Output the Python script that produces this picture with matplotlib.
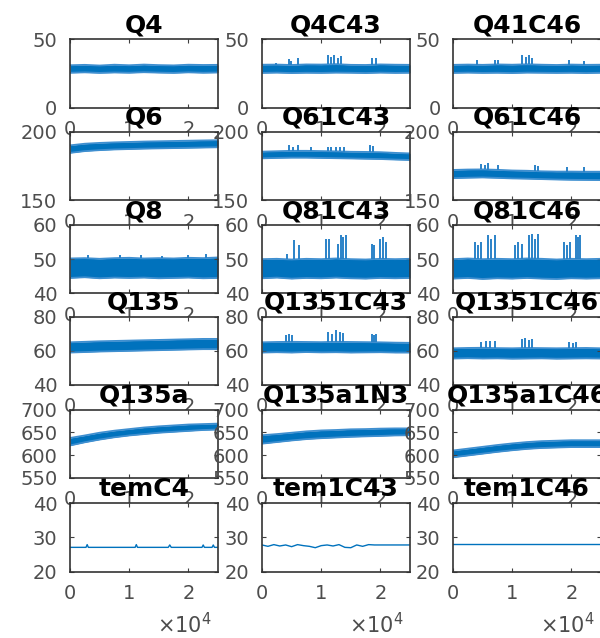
import matplotlib
matplotlib.use('Agg')
import matplotlib.pyplot as plt
import numpy as np

# sample positions (shared x axis, 0 .. 2.5e4)
band_x = [0, 2500, 5000, 7500, 10000, 12500, 15000, 17500, 20000, 22500, 25000]

# row 1 (0..50)
q4_lo = [25.5, 25.8, 25.4, 25.7, 25.5, 25.9, 25.6, 25.4, 25.8, 25.5, 25.7]
q4_hi = [31.0, 31.3, 30.8, 31.4, 31.0, 31.5, 31.1, 30.9, 31.4, 31.2, 31.3]
q4c43_lo = [25.4, 25.6, 25.3, 25.5, 25.4, 25.6, 25.5, 25.3, 25.6, 25.4, 25.5]
q4c43_hi = [31.4, 31.5, 31.2, 31.6, 31.5, 31.8, 31.3, 31.2, 31.6, 31.4, 31.3]
q4c43_spk_x = [2300, 4500, 4900, 6000, 11100, 11600, 12200, 12800, 13400, 18500, 19300]
q4c43_spk_top = [33, 35.5, 34, 36, 38.5, 37, 38.6, 36.5, 38, 36, 36.2]
q41c46_lo = [25.4, 25.6, 25.4, 25.5, 25.3, 25.6, 25.5, 25.4, 25.5, 25.3, 25.5]
q41c46_hi = [31.3, 31.5, 31.3, 31.6, 31.4, 31.7, 31.4, 31.2, 31.5, 31.3, 31.4]
q41c46_spk_x = [4000, 7100, 7600, 11600, 12300, 12800, 13300, 19600, 22100]
q41c46_spk_top = [35, 34.5, 34.5, 38.5, 37, 38.6, 36, 34.5, 34]

# row 2 (150..200)
q6_lo = [184.5, 185.8, 186.5, 187.0, 187.3, 187.6, 187.8, 188.0, 188.2, 188.4, 188.6]
q6_hi = [190.0, 191.2, 191.8, 192.2, 192.5, 192.8, 193.0, 193.2, 193.4, 193.6, 193.8]
q61c43_lo = [180.5, 180.8, 181.0, 181.0, 180.8, 180.6, 180.4, 180.2, 180.0, 179.6, 179.3]
q61c43_hi = [185.4, 185.7, 186.0, 186.0, 185.8, 185.6, 185.3, 185.2, 185.0, 184.5, 184.1]
q61c43_spk_x = [4500, 5200, 6000, 8200, 11100, 11600, 12500, 13200, 13900, 18200, 18700]
q61c43_spk_top = [190, 189, 190.2, 188.5, 189, 188.5, 188.8, 189, 188.5, 190, 189.5]
q61c46_lo = [166.0, 166.3, 166.5, 166.2, 165.8, 165.6, 165.3, 165.0, 164.8, 164.7, 164.6]
q61c46_hi = [172.0, 172.3, 172.4, 172.1, 171.6, 171.4, 171.0, 170.8, 170.8, 170.7, 170.7]
q61c46_spk_x = [4800, 5400, 5950, 7650, 13900, 14400, 19300, 22100]
q61c46_spk_top = [176.5, 175.5, 176.8, 175.5, 175.6, 175, 174.5, 174.5]

# row 3 (40..60)
q8_lo = [44.5, 44.7, 44.4, 44.6, 44.5, 44.6, 44.4, 44.5, 44.6, 44.4, 44.5]
q8_hi = [50.2, 50.3, 50.1, 50.3, 50.4, 50.2, 50.3, 50.2, 50.4, 50.3, 50.5]
q8_spk_x = [3000, 8500, 12000, 15500, 20000, 23000]
q8_spk_top = [51.3, 51.1, 51.3, 51.0, 51.2, 51.4]
q81c43_lo = [44.4, 44.6, 44.3, 44.5, 44.4, 44.6, 44.4, 44.3, 44.5, 44.4, 44.5]
q81c43_hi = [50.0, 50.1, 49.9, 50.1, 50.0, 50.2, 50.0, 49.9, 50.1, 50.0, 50.1]
q81c43_spk_x = [4200, 5400, 6250, 10800, 11300, 12800, 13300, 13700, 14200,
                18500, 19000, 19900, 20400, 21000]
q81c43_spk_top = [51.5, 55.5, 54, 56, 55.8, 54.5, 57, 56.5, 57, 54.5, 54, 56, 56.5, 55]
q81c46_lo = [44.3, 44.5, 44.2, 44.4, 44.3, 44.5, 44.3, 44.2, 44.4, 44.3, 44.4]
q81c46_hi = [50.0, 50.2, 50.0, 50.1, 50.0, 50.2, 50.1, 49.9, 50.1, 50.0, 50.1]
q81c46_spk_x = [3700, 4200, 4800, 5950, 6500, 7100, 10500, 11000, 11600, 12800, 13300,
                13900, 14400, 18700, 19200, 19800, 20700, 21100, 21500]
q81c46_spk_top = [55, 54, 55, 57, 56, 57, 54, 55, 54.5, 57, 57.5, 56, 57.5, 55, 54, 55, 57, 56.5, 57]

# row 4 (40..80)
q135_lo = [59.0, 59.3, 59.6, 59.8, 60.0, 60.2, 60.4, 60.6, 60.8, 61.0, 61.0]
q135_hi = [65.0, 65.3, 65.6, 65.8, 66.0, 66.2, 66.4, 66.6, 66.8, 67.0, 67.0]
q1351c43_lo = [59.0, 59.2, 59.0, 59.3, 59.1, 59.2, 59.0, 59.1, 59.2, 59.0, 59.0]
q1351c43_hi = [65.0, 65.2, 65.3, 65.2, 65.1, 65.3, 65.2, 65.1, 65.0, 64.8, 64.7]
q1351c43_spk_x = [4000, 4500, 5100, 11100, 11800, 12500, 13100, 13600, 18500, 19000, 19300]
q1351c43_spk_top = [69, 70, 69.5, 71, 70, 72, 71, 70.5, 70, 69, 70]
q1351c46_lo = [55.5, 55.7, 55.5, 55.6, 55.4, 55.5, 55.6, 55.4, 55.5, 55.6, 55.5]
q1351c46_hi = [61.5, 61.7, 61.8, 61.6, 61.5, 61.7, 61.6, 61.5, 61.6, 61.7, 61.5]
q1351c46_spk_x = [4800, 5500, 6300, 7100, 11600, 12200, 12800, 13300, 19600, 20200, 20700]
q1351c46_spk_top = [65, 66, 65.5, 66, 67, 67.6, 66.5, 67, 65, 64.5, 65]

# row 5 (550..700)
q135a_lo = [621, 628, 634, 639, 643, 646, 649, 651, 653, 655, 656]
q135a_hi = [637.5, 643, 649, 653.5, 657, 660.5, 663, 665, 667, 668, 669]
q135a1n3_lo = [625, 628.5, 632, 635, 637, 638.5, 640, 641, 642, 643, 643.5]
q135a1n3_hi = [643.5, 646, 649, 652, 654, 655, 656.5, 657, 658, 658.5, 658.5]
q135a1c46_lo = [595, 599, 603, 607, 610.5, 613.5, 615.5, 616.5, 617.5, 617.5, 617.5]
q135a1c46_hi = [610, 614, 618, 622, 625.5, 628.5, 630.5, 631.5, 632.5, 632.5, 632.5]

# row 6 (20..40), plain lines
temc4_x = [0, 2700, 2900, 3100, 11000, 11200, 11400, 16600, 16850, 17100,
           22300, 22500, 22700, 24000, 24200, 24400, 25000]
temc4_y = [27.1, 27.1, 27.9, 27.1, 27.1, 27.9, 27.1, 27.1, 27.8, 27.1,
           27.1, 27.8, 27.1, 27.1, 27.8, 27.1, 27.1]
tem1c43_x = [0, 1000, 2000, 3000, 4000, 5000, 6000, 7000, 8000, 9000, 10000,
             11000, 12000, 13000, 14000, 15000, 16000, 17000, 18000, 19000, 25000]
tem1c43_y = [27.8, 27.4, 27.9, 27.5, 27.8, 27.3, 27.9, 27.6, 27.4, 27.0, 27.6,
             27.8, 27.5, 27.9, 27.1, 27.0, 27.8, 27.4, 27.9, 27.8, 27.8]
tem1c46_x = [0, 25000]
tem1c46_y = [28.0, 28.0]

titles = [['Q4', 'Q4C43', 'Q41C46'],
          ['Q6', 'Q61C43', 'Q61C46'],
          ['Q8', 'Q81C43', 'Q81C46'],
          ['Q135', 'Q1351C43', 'Q1351C46'],
          ['Q135a', 'Q135a1N3', 'Q135a1C46'],
          ['temC4', 'tem1C43', 'tem1C46']]
ylims = [(0, 50), (150, 200), (40, 60), (40, 80), (550, 700), (20, 40)]
yticks = [[0, 50], [150, 200], [40, 50, 60], [40, 60, 80],
          [550, 600, 650, 700], [20, 30, 40]]

bands = [[(q4_lo, q4_hi, None, None), (q4c43_lo, q4c43_hi, q4c43_spk_x, q4c43_spk_top),
          (q41c46_lo, q41c46_hi, q41c46_spk_x, q41c46_spk_top)],
         [(q6_lo, q6_hi, None, None), (q61c43_lo, q61c43_hi, q61c43_spk_x, q61c43_spk_top),
          (q61c46_lo, q61c46_hi, q61c46_spk_x, q61c46_spk_top)],
         [(q8_lo, q8_hi, q8_spk_x, q8_spk_top), (q81c43_lo, q81c43_hi, q81c43_spk_x, q81c43_spk_top),
          (q81c46_lo, q81c46_hi, q81c46_spk_x, q81c46_spk_top)],
         [(q135_lo, q135_hi, None, None), (q1351c43_lo, q1351c43_hi, q1351c43_spk_x, q1351c43_spk_top),
          (q1351c46_lo, q1351c46_hi, q1351c46_spk_x, q1351c46_spk_top)],
         [(q135a_lo, q135a_hi, None, None), (q135a1n3_lo, q135a1n3_hi, None, None),
          (q135a1c46_lo, q135a1c46_hi, None, None)]]
lines = [(temc4_x, temc4_y), (tem1c43_x, tem1c43_y), (tem1c46_x, tem1c46_y)]

BLUE = '#0072BD'
W, H = 600, 638
col_left = [70, 262, 453]
row_top = [39.3, 131.7, 225, 316.7, 409.5, 503.3]
ax_w, ax_h = 148, 68.3

plt.rcParams['font.family'] = ['DejaVu Sans']
fig = plt.figure(figsize=(W / 100, H / 100), dpi=100)
fig.patch.set_facecolor('white')

for r in range(6):
    for c in range(3):
        ax = fig.add_axes([col_left[c] / W, 1 - (row_top[r] + ax_h) / H, ax_w / W, ax_h / H])
        if r < 5:
            lo, hi, sx, st = bands[r][c]
            ax.fill_between(band_x, lo, hi, color=BLUE, lw=0)
            ax.plot(band_x, lo, color='#3f8fd0', lw=1.3)
            ax.plot(band_x, hi, color='#3f8fd0', lw=1.3)
            if sx is not None:
                base = np.interp(sx, band_x, hi)
                ax.vlines(sx, base - 1e-3, st, color='#2a82c8', lw=1.4)
        else:
            lx, ly = lines[c]
            ax.plot(lx, ly, color=BLUE, lw=1.0)
        ax.set_xlim(0, 25000)
        ax.set_ylim(*ylims[r])
        ax.set_xticks([0, 10000, 20000])
        ax.set_xticklabels(['0', '1', '2'])
        ax.set_yticks(yticks[r])
        ax.tick_params(direction='in', length=3, width=0.8, top=True, right=True,
                       labelsize=14, labelcolor='#4d4d4d', color='#404040')
        ax.tick_params(axis='x', pad=9)
        ax.tick_params(axis='y', pad=9)
        for sp in ax.spines.values():
            sp.set_color('#333333')
            sp.set_linewidth(1.2)
        ax.set_title(titles[r][c], fontsize=18, fontweight='bold', pad=5)
        if r == 5:
            ax.text(0.96, -0.78, r'$\times10^4$', transform=ax.transAxes,
                    ha='right', va='center', fontsize=15, color='#4d4d4d')

fig.savefig('out.png', dpi=100)
